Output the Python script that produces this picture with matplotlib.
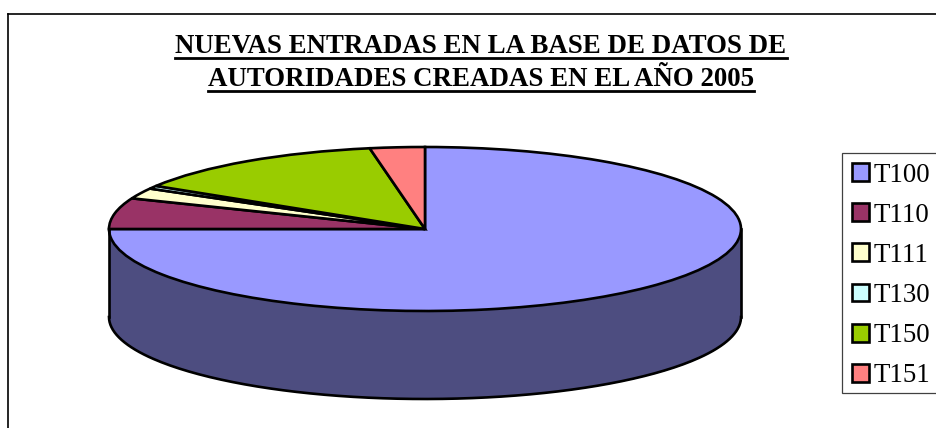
import matplotlib
matplotlib.use("Agg")
import numpy as np
import matplotlib.pyplot as plt
from matplotlib.lines import Line2D
from matplotlib.patches import Rectangle

plt.rcParams["font.family"] = ["Liberation Serif", "DejaVu Serif"]

labels = ["T100", "T110", "T111", "T130", "T150", "T151"]
values = [75.0, 6.1, 2.1, 0.6, 13.4, 2.8]
colors = ["#9999ff", "#993366", "#ffffcc", "#ccffff", "#99cc00", "#ff8080"]
title_lines = ["NUEVAS ENTRADAS EN LA BASE DE DATOS DE",
               "AUTORIDADES CREADAS EN EL AÑO 2005"]

W, H = 936, 428
cx, cy, rx, ry, depth = 425, 229, 316, 82, 88

fig = plt.figure(figsize=(W / 100, H / 100), dpi=100)
ax = fig.add_axes([0, 0, 1, 1])

# side wall of the disc, only the front half shows
t = np.linspace(np.pi, 2 * np.pi, 200)
dz = depth / ry
ax.fill_between(np.cos(t), np.sin(t), np.sin(t) - dz,
                color="#4d4d80", linewidth=0)
ax.plot(np.cos(t), np.sin(t) - dz, color="black", lw=1.9)
ax.plot([-1, -1], [0, -dz], color="black", lw=1.9)
ax.plot([1, 1], [0, -dz], color="black", lw=1.9)

wedges, _ = ax.pie(values, colors=colors, startangle=90, counterclock=False,
                   radius=1, wedgeprops=dict(edgecolor="black", linewidth=1.9))

# squash the pie into an ellipse by scaling the axes, limits match pixel layout
ax.set_aspect("auto")
ax.set_xlim(-cx / rx, (W - cx) / rx)
ax.set_ylim(-(H - cy) / ry, cy / ry)
ax.axis("off")

# outer chart frame, runs off the right and bottom of the crop
fig.add_artist(Line2D([8 / W, 8 / W], [0, 1 - 13.5 / H], color="black", lw=1.2))
fig.add_artist(Line2D([8 / W, 1], [1 - 13.5 / H, 1 - 13.5 / H], color="black", lw=1.2))

# title, underlined by hand
texts = []
for line, y in zip(title_lines, [46.5, 79.5]):
    txt = fig.text(481 / W, 1 - y / H, line, ha="center", va="center",
                   fontsize=19.4, fontweight="bold", color="black")
    texts.append(txt)
fig.canvas.draw()
rend = fig.canvas.get_renderer()
for txt, y in zip(texts, [57.5, 90.5]):
    bb = txt.get_window_extent(rend)
    fig.add_artist(Line2D([bb.x0 / W, bb.x1 / W], [1 - y / H, 1 - y / H],
                          color="black", lw=2.0))

# legend box drawn apart, the legend's own frame comes out too tall
fig.add_artist(Rectangle((842 / W, 1 - 393 / H), 110 / W, 240 / H,
                         transform=fig.transFigure, facecolor="white",
                         edgecolor="#404040", linewidth=0.9))
leg = fig.legend(wedges, labels, loc="upper left",
                 bbox_to_anchor=(842 / W, 1 - 153 / H),
                 bbox_transform=fig.transFigure,
                 fontsize=19.4, frameon=False, borderaxespad=0, borderpad=0.36,
                 handlelength=0.65, handleheight=0.65, handletextpad=0.16,
                 labelspacing=0.56)
for h in leg.legend_handles:
    h.set_linewidth(1.9)

fig.savefig("out.png", dpi=100)
